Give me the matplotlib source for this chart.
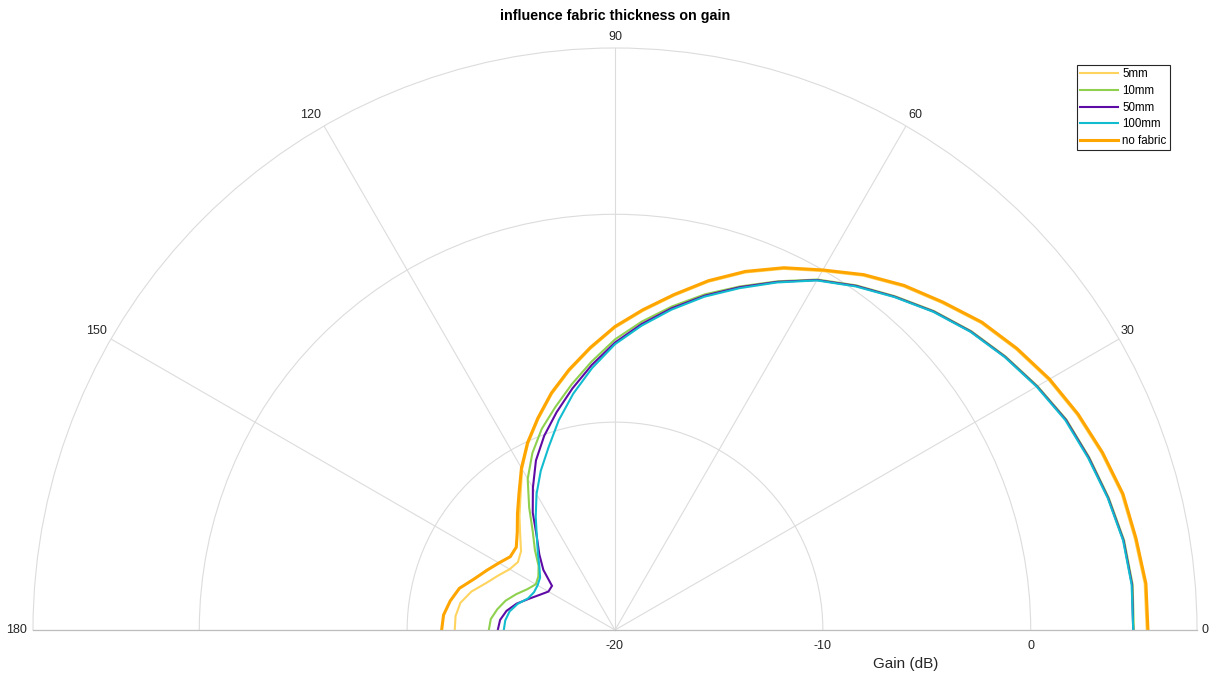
import numpy as np
import matplotlib
matplotlib.use("Agg")
import matplotlib.pyplot as plt
from matplotlib.transforms import offset_copy

plt.rcParams["font.family"] = ["Liberation Sans", "DejaVu Sans"]

# Measurement angles (degrees) and gain per fabric thickness (dB)
angle_deg = [0, 5, 10, 15, 20, 25, 30, 35, 40, 45, 50, 55, 60, 65, 70, 75, 80, 85, 90,
             95, 100, 105, 110, 115, 120, 125, 130, 135, 140, 145, 150, 155, 160, 165,
             170, 175, 180]

gain_5mm = [5.58, 5.58, 5.39, 5.24, 4.90, 4.52, 4.08, 3.55, 2.98, 2.25, 1.58, 0.81, -0.06,
            -0.83, -1.70, -2.66, -3.67, -4.59, -5.46, -6.42, -7.34, -8.25, -9.21, -10.11,
            -11.06, -12.08, -12.85, -13.55, -14.10, -14.30, -14.15, -13.80, -13.40, -12.85,
            -12.45, -12.30, -12.29]

gain_10mm = [4.96, 5.00, 4.87, 4.59, 4.28, 3.96, 3.47, 2.94, 2.37, 1.70, 0.96, 0.24, -0.53,
             -1.49, -2.41, -3.28, -4.19, -5.10, -6.02, -7.04, -8.00, -8.90, -9.70, -10.60,
             -11.60, -12.80, -13.85, -14.55, -15.20, -15.50, -15.60, -15.35, -14.95, -14.55,
             -14.25, -14.00, -13.93]

gain_50mm = [4.93, 4.97, 4.84, 4.56, 4.25, 3.93, 3.44, 2.91, 2.34, 1.67, 0.93, 0.21, -0.56,
             -1.52, -2.45, -3.35, -4.28, -5.22, -6.17, -7.20, -8.20, -9.15, -10.05, -11.00,
             -12.10, -13.10, -14.15, -14.85, -15.50, -16.30, -16.30, -16.00, -15.60, -15.10,
             -14.70, -14.45, -14.36]

gain_100mm = [4.93, 4.95, 4.82, 4.54, 4.22, 3.90, 3.42, 2.89, 2.32, 1.65, 0.91, 0.18, -0.58,
              -1.55, -2.50, -3.40, -4.35, -5.30, -6.25, -7.35, -8.45, -9.55, -10.65, -11.55,
              -12.45, -13.35, -14.15, -14.75, -15.25, -15.60, -15.70, -15.70, -15.55, -15.15,
              -14.85, -14.70, -14.65]

gain_no_fabric = [5.64, 5.64, 5.45, 5.30, 4.96, 4.58, 4.14, 3.61, 3.04, 2.31, 1.64, 0.87, 0.00,
                  -0.77, -1.64, -2.60, -3.61, -4.53, -5.40, -6.36, -7.28, -8.19, -9.15, -10.05,
                  -11.00, -11.95, -12.70, -13.35, -13.80, -13.85, -13.55, -13.20, -12.80, -12.25,
                  -11.95, -11.72, -11.66]

series_labels = ["5mm", "10mm", "50mm", "100mm", "no fabric"]
series_colors = ["#FFD45E", "#8FD14F", "#5E0BA5", "#12BCCF", "#FFA500"]
series_widths = [1.5, 1.5, 1.5, 1.5, 2.2]

r_min, r_max = -20, 8
r_ticks = [-20, -10, 0]
theta_ticks = [0, 30, 60, 90, 120, 150, 180]

W, H = 1211, 675
fig = plt.figure(figsize=(W / 100, H / 100), dpi=100)
# A half-disc is centred inside a square polar box, with its origin a quarter of the
# way up; size the square so the semicircle spans 1164 px with its origin at y=45 px.
side = 1164
ax = fig.add_axes([33 / W, (45 - side / 4) / H, side / W, side / H], projection="polar")

ax.set_thetamin(0)
ax.set_thetamax(180)
ax.set_rlim(r_min, r_max)

theta = np.deg2rad(angle_deg)
for vals, lab, col, lw in zip(
        [gain_5mm, gain_10mm, gain_50mm, gain_100mm, gain_no_fabric],
        series_labels, series_colors, series_widths):
    ax.plot(theta, vals, color=col, lw=lw, label=lab, solid_joinstyle="miter")

# grid styling
grid_col = "#DCDCDC"
ax.set_thetagrids(theta_ticks, [""] * len(theta_ticks))
ax.set_yticks([t for t in r_ticks if t > r_min])
ax.set_yticklabels([])
ax.grid(True, color=grid_col, lw=0.8)
ax.tick_params(axis="both", length=0)
ax.spines["polar"].set_color(grid_col)
ax.spines["polar"].set_linewidth(0.8)
for s in ("start", "end"):
    ax.spines[s].set_color("#BDBDBD")
    ax.spines[s].set_linewidth(0.9)
ax.spines["inner"].set_visible(False)

# angle labels just outside the outer arc: (alignment, x offset, y offset) in pixels
label_place = {0: ("left", 5, 0), 30: ("left", 1.5, 8), 60: ("left", 2.5, 11),
               90: ("center", 0, 11), 120: ("right", -3, 11), 150: ("right", -4, 8),
               180: ("right", -6, 0)}
for t in theta_ticks:
    ha, dx, dy = label_place[t]
    tr = offset_copy(ax.transData, fig=fig, x=dx, y=dy, units="dots")
    ax.text(np.deg2rad(t), r_max, str(t), transform=tr, ha=ha, va="center",
            fontsize=9, color="#262626", clip_on=False)

# radial tick labels along the baseline
lab_tr = offset_copy(ax.transData, fig=fig, x=0, y=-10, units="dots")
for t in r_ticks:
    ax.text(0, t, str(t), transform=lab_tr, ha="center", va="top",
            fontsize=9, color="#262626")

gain_tr = offset_copy(ax.transData, fig=fig, x=0, y=-34, units="dots")
ax.text(0, (r_min + r_max) / 2, "Gain (dB)", transform=gain_tr, ha="center",
        va="center", fontsize=11, color="#262626")

fig.text(615 / W, 1 - 16 / H, "influence fabric thickness on gain", ha="center",
         va="center", fontsize=10.3, fontweight="bold", color="black")

leg = ax.legend(loc="upper right", bbox_to_anchor=(1170 / W, 1 - 65 / H),
                bbox_transform=fig.transFigure, fontsize=8.3, frameon=True,
                fancybox=False, framealpha=1, edgecolor="#262626",
                handlelength=3.3, handletextpad=0.35, labelspacing=0.4,
                borderpad=0.3, borderaxespad=0)
leg.get_frame().set_linewidth(0.8)

fig.savefig("out.png", dpi=100)
